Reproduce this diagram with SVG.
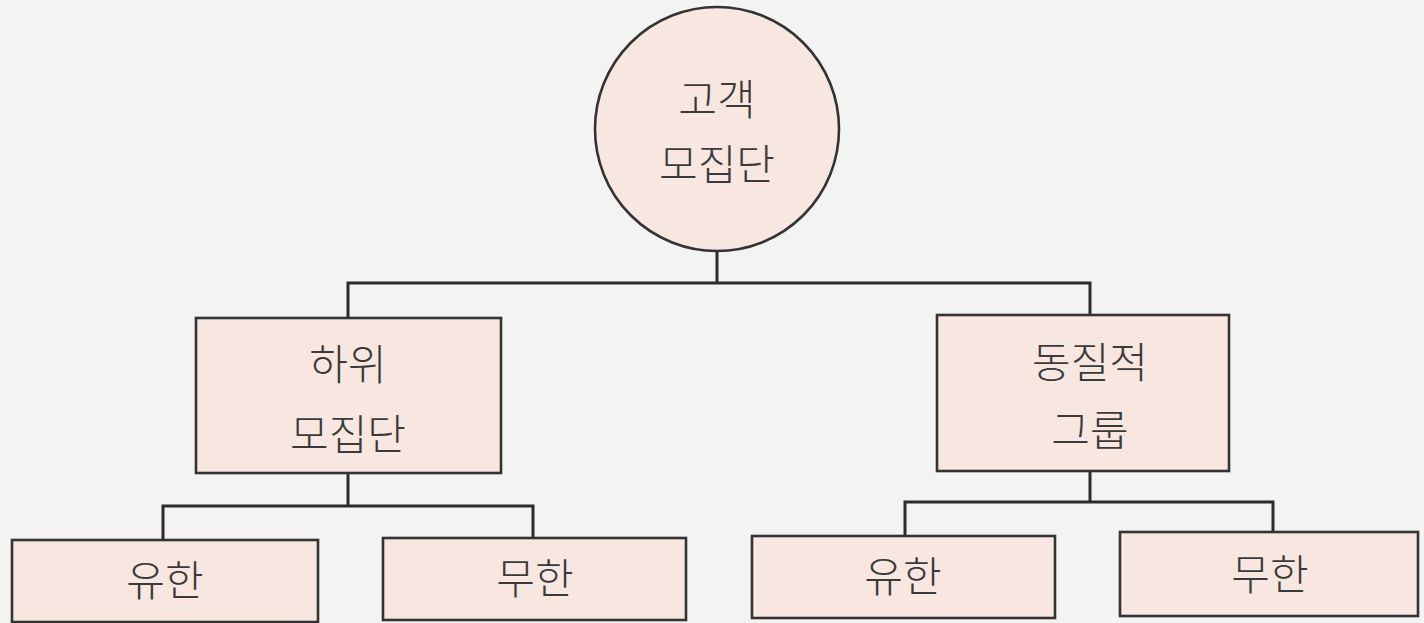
<svg xmlns="http://www.w3.org/2000/svg" width="1424" height="623" viewBox="0 0 1424 623">
<style>
.n{fill:#f8e7e0;stroke:#333;stroke-width:2.6}
.c{fill:none;stroke:#2b2b2b;stroke-width:3}
text{font-family:"Noto Sans CJK KR","Noto Sans",sans-serif;font-size:42px;font-weight:300;fill:#3a3a3a;text-anchor:middle}
</style>
<rect width="1424" height="623" fill="#f3f3f1"/>
<g id="connectors">
<polyline class="c" points="717,250 717,283"/>
<polyline class="c" points="348,318 348,283 1090,283 1090,315"/>
<polyline class="c" points="348,473 348,506"/>
<polyline class="c" points="163,540 163,506 533,506 533,538"/>
<polyline class="c" points="1090,471 1090,502"/>
<polyline class="c" points="905,536 905,502 1273,502 1273,532"/>
</g>
<g id="root">
<circle class="n" cx="717" cy="129" r="122"/>
<text x="717" y="115">고객</text>
<text x="717" y="180">모집단</text>
</g>
<g id="sub">
<rect class="n" x="196" y="318" width="305" height="155"/>
<text x="348" y="380">하위</text>
<text x="348" y="450">모집단</text>
</g>
<g id="homo">
<rect class="n" x="937" y="315" width="292" height="156"/>
<text x="1090" y="378">동질적</text>
<text x="1090" y="446">그룹</text>
</g>
<g id="sub-finite">
<rect class="n" x="12" y="540" width="306" height="82"/>
<text x="165" y="596">유한</text>
</g>
<g id="sub-infinite">
<rect class="n" x="383" y="538" width="303" height="82"/>
<text x="535" y="594">무한</text>
</g>
<g id="homo-finite">
<rect class="n" x="752" y="536" width="303" height="82"/>
<text x="903" y="592">유한</text>
</g>
<g id="homo-infinite">
<rect class="n" x="1120" y="532" width="298" height="84"/>
<text x="1270" y="590">무한</text>
</g>
</svg>
